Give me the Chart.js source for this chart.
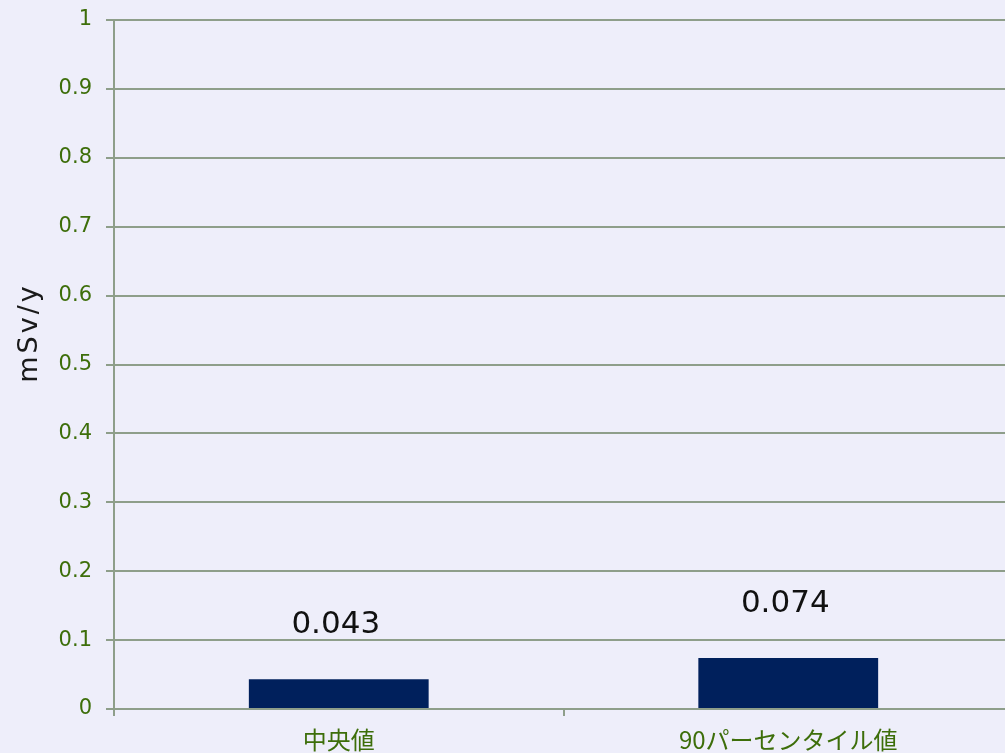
<!DOCTYPE html>
<html>
<head>
<meta charset="utf-8">
<script src="https://cdn.jsdelivr.net/npm/chart.js@4"></script>
<style>
  html, body { margin: 0; padding: 0; overflow: hidden; background: #eeeefa; }
  #wrap { position: relative; width: 1013px; height: 753px; }
</style>
</head>
<body>
<div id="wrap"><canvas id="doseChart"></canvas></div>
<script>
// dose estimate: median and 90th percentile
const categories = ["中央値", "90パーセンタイル値"];
const doseValues = [0.043, 0.074];
const valueLabels = ["0.043", "0.074"];
const yTitle = "mSv/y";

const gridColor = "#8e9e8a";
const tickGreen = "#3d6e0a";

// value labels above bars + rotated axis title
const barLabels = {
  id: "barLabels",
  afterDatasetsDraw(chart) {
    const ctx = chart.ctx;
    const meta = chart.getDatasetMeta(0);
    ctx.save();
    ctx.font = "31px 'DejaVu Sans'";
    ctx.fillStyle = "#111";
    ctx.textAlign = "center";
    ctx.textBaseline = "alphabetic";
    meta.data.forEach((bar, i) => {
      ctx.fillText(valueLabels[i], bar.x - 3, bar.y - 46);
    });
    ctx.restore();

    ctx.save();
    ctx.translate(30, 333);
    ctx.rotate(-Math.PI / 2);
    ctx.font = "27px 'DejaVu Sans'";
    ctx.letterSpacing = "3px";
    ctx.fillStyle = "#1a1a1a";
    ctx.textAlign = "center";
    ctx.textBaseline = "middle";
    ctx.fillText(yTitle, 0, 0);
    ctx.restore();
  },
};

new Chart(document.getElementById("doseChart"), {
  type: "bar",
  data: {
    labels: categories,
    datasets: [
      {
        data: doseValues,
        backgroundColor: "#00205c",
        categoryPercentage: 1,
        barPercentage: 0.4,
      },
    ],
  },
  options: {
    responsive: true,
    maintainAspectRatio: false,
    animation: false,
    layout: { padding: { top: 20, right: 0, left: 0, bottom: 0 } },
    plugins: {
      legend: { display: false },
      tooltip: { enabled: false },
    },
    scales: {
      x: {
        grid: {
          display: true,
          drawOnChartArea: false,
          offset: true,
          color: gridColor,
          lineWidth: 2,
          tickLength: 7,
        },
        border: { color: gridColor, width: 2 },
        ticks: {
          color: tickGreen,
          font: { family: "'Noto Sans CJK JP'", size: 24 },
          padding: 9,
          maxRotation: 0,
        },
        afterFit: (scale) => { scale.height = 44; },
      },
      y: {
        min: 0,
        max: 1,
        grid: { color: gridColor, lineWidth: 2, tickLength: 8 },
        border: { color: gridColor, width: 2 },
        ticks: {
          stepSize: 0.1,
          color: tickGreen,
          font: { family: "'DejaVu Sans'", size: 21 },
          padding: 14,
          callback: (v) => String(Math.round(v * 10) / 10),
        },
        afterFit: (scale) => {
          scale.width = 114;
          scale.paddingTop = 0;
          scale.paddingBottom = 0;
        },
      },
    },
  },
  plugins: [barLabels],
});
</script>
</body>
</html>
